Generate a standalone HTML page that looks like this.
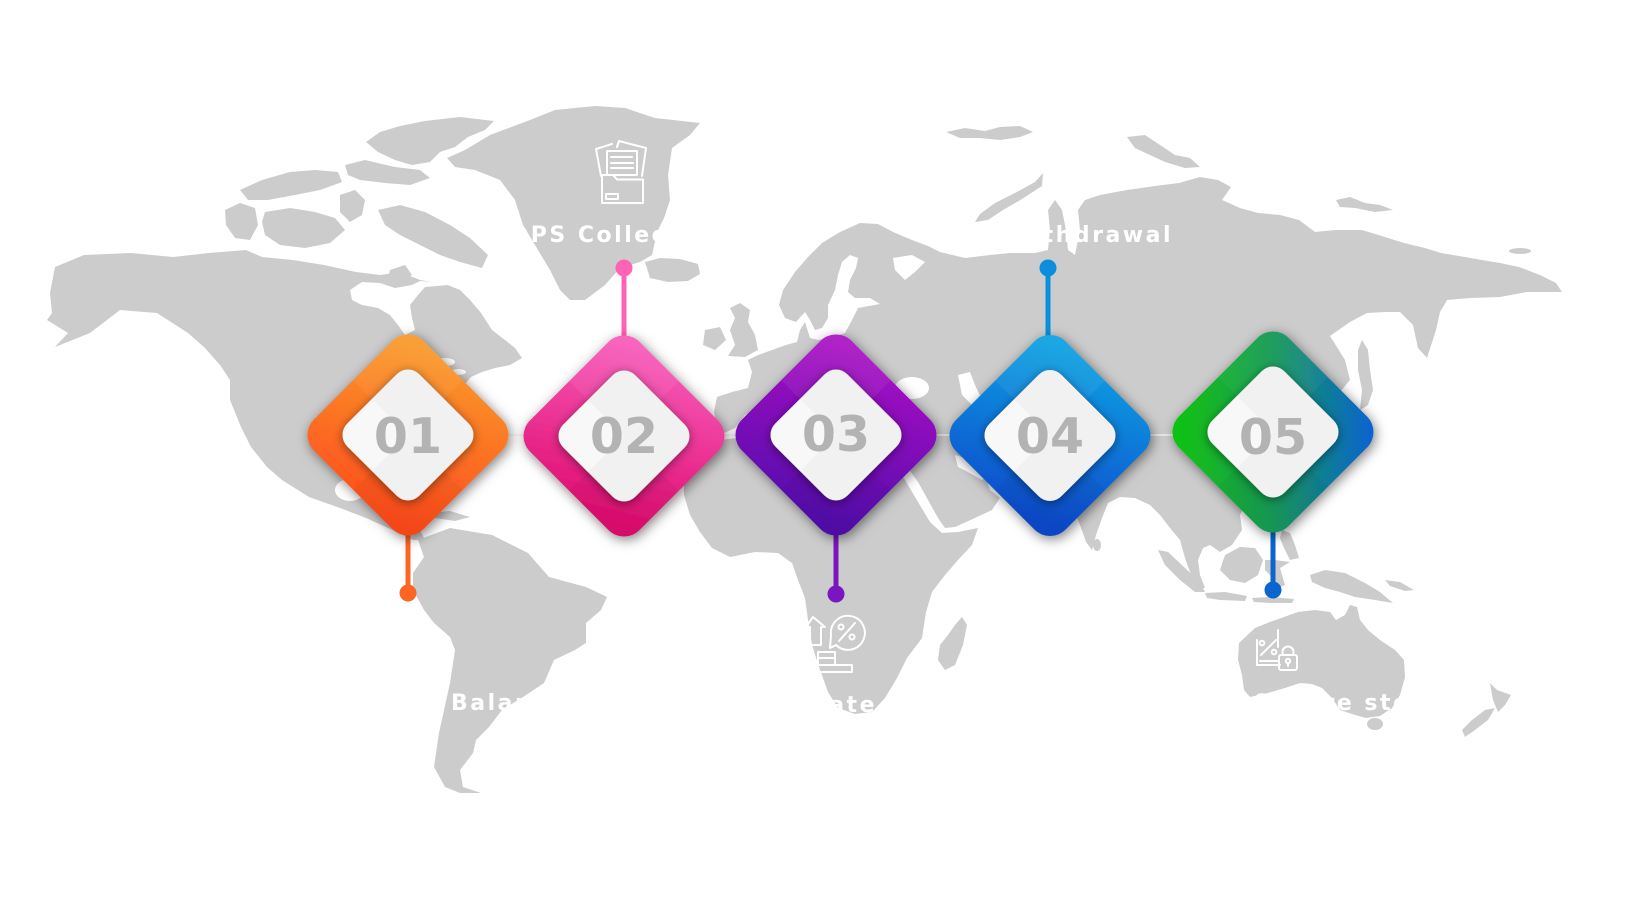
<!DOCTYPE html>
<html><head><meta charset="utf-8"><style>
html,body{margin:0;padding:0;background:#fff;overflow:hidden;width:1633px;height:900px}
svg{display:block}
.lbl{font-family:"DejaVu Sans","Liberation Sans",sans-serif;font-weight:bold;font-size:22px;letter-spacing:2.5px;fill:#fff}
.num{font-family:"DejaVu Sans","Liberation Sans",sans-serif;font-weight:bold;font-size:49px;fill:#b3b3b3}
</style></head><body>
<svg width="1633" height="900" viewBox="0 0 1633 900" xmlns="http://www.w3.org/2000/svg">
<defs>
<linearGradient id="g1" x1="0.2" y1="0" x2="0.8" y2="1"><stop offset="0" stop-color="#f99a2a"/><stop offset="1" stop-color="#ff4a1c"/></linearGradient>
<linearGradient id="g2" x1="0.2" y1="0" x2="0.8" y2="1"><stop offset="0" stop-color="#f75cba"/><stop offset="1" stop-color="#df0a6e"/></linearGradient>
<linearGradient id="g3" x1="0.2" y1="0" x2="0.8" y2="1"><stop offset="0" stop-color="#aa12c4"/><stop offset="1" stop-color="#520eac"/></linearGradient>
<linearGradient id="g4" x1="0.2" y1="0" x2="0.8" y2="1"><stop offset="0" stop-color="#0aa2e2"/><stop offset="1" stop-color="#0848cc"/></linearGradient>
<linearGradient id="g5" x1="0" y1="1" x2="1" y2="0"><stop offset="0" stop-color="#10c808"/><stop offset="0.5" stop-color="#169a58"/><stop offset="1" stop-color="#0a5ddc"/></linearGradient>
<filter id="ds" x="-40%" y="-40%" width="180%" height="180%"><feDropShadow dx="2" dy="3" stdDeviation="6" flood-color="#000" flood-opacity="0.5"/></filter>
<filter id="ids" x="-40%" y="-40%" width="180%" height="180%"><feDropShadow dx="0" dy="2" stdDeviation="5" flood-color="#000" flood-opacity="0.45"/></filter>
<clipPath id="dc"><rect x="-77.5" y="-77.5" width="155" height="155" rx="22"/></clipPath>
<clipPath id="ic"><rect x="-51" y="-51" width="102" height="102" rx="16"/></clipPath>
</defs>
<rect width="1633" height="900" fill="#fff"/>

<!-- MAP -->
<g fill="#cccccc">
<polygon points="55,267 84,255 131,253 173,257 209,253 246,250 262,257 293,260 324,265 356,272 380,275 400,272 420,280 445,284 460,290 470,300 481,313 492,330 505,340 515,348 522,358 510,365 495,368 482,372 471,377 460,390 455,405 450,425 445,445 440,465 445,480 448,495 440,500 425,490 410,485 398,488 392,500 398,515 410,520 420,530 425,540 413,540 397,532 366,518 340,508 309,497 282,480 267,467 251,447 241,427 230,400 230,380 220,365 205,348 188,333 157,313 120,310 90,333 55,347 68,333 47,320 52,313 50,293"/>
<polygon points="366,142 380,132 400,126 425,121 460,117 494,121 485,130 468,137 455,147 440,152 430,162 412,165 395,160 378,152"/>
<polygon points="345,165 365,160 395,167 420,170 430,178 410,185 385,183 360,180 348,175"/>
<polygon points="240,190 262,180 290,172 315,170 338,172 342,182 320,190 295,195 268,200 248,200"/>
<polygon points="225,210 240,203 255,208 258,225 250,240 235,238 226,225"/>
<polygon points="265,212 290,208 315,212 335,218 345,230 330,243 305,248 280,245 265,235 262,222"/>
<polygon points="378,210 400,205 425,212 450,225 470,238 488,255 482,268 460,262 440,255 420,245 400,235 385,225"/>
<polygon points="340,195 355,190 365,200 362,215 350,222 340,212"/>
<polygon points="390,270 405,265 412,275 400,282 388,278"/>
<polygon points="447,158 465,150 490,135 530,120 555,110 595,106 625,108 655,118 700,123 690,135 672,148 668,175 670,200 664,218 657,232 652,255 640,262 620,268 605,285 585,300 570,300 560,290 550,270 535,245 523,225 515,200 500,180 475,170 455,167"/>
<polygon points="645,262 660,258 680,259 698,264 700,274 688,281 668,282 650,278"/>
<polygon points="740,303 750,310 748,322 755,335 758,350 745,357 728,356 735,345 730,330 735,318 730,308"/>
<polygon points="705,330 720,327 726,340 715,350 703,345"/>
<polygon points="418,540 450,528 492,535 528,553 549,577 586,587 607,597 601,610 586,623 586,643 575,650 554,660 544,683 523,697 502,710 489,727 476,740 473,753 460,770 463,787 481,793 460,793 445,787 434,767 439,733 450,683 455,650 450,637 434,623 424,610 413,590 413,573 424,557"/>
<polygon points="430,513 450,511 470,517 455,521 435,518"/>
<polygon points="718,432 714,412 717,397 732,392 748,388 752,372 748,360 758,355 772,350 786,345 797,342 800,330 805,322 810,338 818,340 830,338 845,333 852,320 858,308 880,304 870,298 855,298 848,292 850,280 856,268 858,258 850,255 842,262 838,275 835,290 828,305 828,318 822,328 815,330 810,320 805,312 796,322 785,318 779,305 783,290 795,272 808,257 822,243 840,232 860,223 878,224 893,232 912,240 928,246 940,252 965,258 990,255 1010,253 1035,253 1048,250 1050,230 1048,210 1055,200 1062,210 1066,230 1068,250 1075,255 1080,230 1078,210 1085,200 1100,195 1127,190 1155,186 1179,183 1200,177 1218,180 1231,187 1222,200 1240,208 1258,213 1280,215 1299,220 1315,232 1335,230 1362,230 1385,237 1404,243 1425,248 1441,253 1465,257 1482,260 1500,263 1519,267 1540,275 1556,283 1562,292 1540,292 1527,292 1500,297 1470,298 1447,300 1440,312 1436,330 1427,358 1418,348 1413,325 1400,312 1385,312 1367,313 1350,322 1330,336 1345,360 1350,380 1340,392 1348,405 1350,425 1340,445 1325,465 1305,485 1285,497 1265,503 1245,505 1240,515 1242,530 1232,545 1220,552 1210,545 1203,548 1198,560 1200,575 1205,588 1196,588 1190,572 1185,558 1180,540 1170,528 1160,515 1150,505 1135,498 1120,497 1108,503 1102,518 1096,535 1092,550 1086,542 1080,525 1074,510 1065,498 1050,490 1030,484 1010,485 995,480 985,475 990,490 1000,498 992,510 975,518 955,527 945,528 938,518 928,500 918,482 908,468 900,456 896,445 893,428 880,422 860,425 848,422 838,430 830,422 820,418 812,428 800,418 790,410 778,405 760,408 745,415 735,428 722,434"/>
<polygon points="946,132 965,128 985,131 1000,127 1020,126 1033,132 1020,137 1000,140 980,138 960,138"/>
<polygon points="1043,173 1035,182 1015,193 995,203 980,214 975,222 988,220 1003,210 1022,199 1042,186"/>
<polygon points="1127,137 1145,135 1160,145 1175,155 1190,158 1200,167 1185,168 1165,162 1150,155 1135,148"/>
<polygon points="1336,200 1350,197 1365,203 1380,205 1393,210 1375,212 1355,208 1340,207"/>
<ellipse cx="1520" cy="251" rx="11" ry="3"/>
<polygon points="1362,340 1368,350 1370,370 1373,390 1368,405 1360,410 1362,390 1358,370 1358,350"/>
<polygon points="688,465 700,448 720,440 745,437 770,440 800,443 830,445 860,447 885,450 893,462 905,480 918,502 930,522 942,533 958,532 978,528 972,545 958,560 945,575 932,592 926,612 922,638 907,658 897,678 885,698 872,712 855,714 838,708 828,692 820,670 812,645 808,620 805,598 798,580 792,563 778,553 755,552 730,557 712,548 700,532 690,515 684,495 684,478"/>
<polygon points="962,617 967,625 963,645 955,665 945,670 938,660 940,645 948,635 955,625"/>
<ellipse cx="1097" cy="545" rx="4" ry="6"/>
<polygon points="1282,530 1290,533 1295,545 1299,558 1290,560 1284,548 1280,538"/>
<polygon points="1225,555 1240,547 1255,548 1263,560 1258,575 1245,583 1230,580 1220,570"/>
<polygon points="1265,560 1275,560 1290,562 1280,568 1285,585 1275,590 1270,575 1265,570"/>
<polygon points="1158,550 1168,552 1185,568 1200,582 1205,592 1195,592 1180,580 1165,565"/>
<polygon points="1205,593 1225,592 1247,596 1245,601 1220,600 1207,598"/>
<polygon points="1252,598 1270,597 1294,599 1292,603 1270,603 1254,602"/>
<polygon points="1310,575 1325,570 1345,573 1365,583 1380,592 1393,603 1375,600 1355,597 1340,592 1325,588 1312,582"/>
<polygon points="1385,580 1400,582 1414,590 1405,591 1390,586"/>
<polygon points="1239,643 1255,628 1270,622 1284,617 1298,612 1315,610 1330,612 1336,620 1345,615 1350,605 1357,607 1360,620 1368,630 1380,640 1395,650 1404,660 1405,677 1400,695 1392,708 1380,716 1366,718 1352,714 1340,710 1332,698 1322,688 1312,684 1300,683 1285,688 1268,693 1250,697 1244,690 1242,675 1238,660"/>
<ellipse cx="1375" cy="724" rx="8" ry="6"/>
<polygon points="1490,683 1497,690 1511,695 1505,705 1498,712 1493,700"/>
<polygon points="1495,708 1488,720 1475,730 1465,737 1462,730 1472,720 1485,710"/>
</g>
<g fill="#fff">
<polygon points="350,290 362,282 380,283 395,288 412,285 420,281 460,284 425,287 418,295 410,305 412,318 415,330 405,335 398,325 390,315 378,308 362,305 352,300"/>
<ellipse cx="445" cy="362" rx="10" ry="4"/>
<ellipse cx="458" cy="372" rx="8" ry="3"/>
<ellipse cx="435" cy="370" rx="4" ry="7"/>
<ellipse cx="350" cy="490" rx="15" ry="11"/>
<ellipse cx="912" cy="388" rx="17" ry="11"/>
<polygon points="958,375 970,372 975,385 982,400 972,405 962,395"/>
<polygon points="893,258 912,255 925,262 915,272 905,280 895,270"/>
<polygon points="955,455 972,460 988,475 982,480 968,472 958,467"/>
</g>

<text class="lbl" x="510" y="242">DPS Collection</text>
<text class="lbl" x="1173" y="242" text-anchor="end">Withdrawal</text>
<text class="lbl" x="451" y="710">Balance Check</text>
<text class="lbl" x="877" y="712" text-anchor="end">Interest rate</text>
<text class="lbl" x="1254" y="710">Secure storage</text>

<g fill="none" stroke="#fff" stroke-width="2" stroke-linejoin="round" stroke-linecap="round">
  <path d="M601,176 L596,149 L612,144"/>
  <path d="M617,147 L619,141 L646,148 L642,176"/>
  <rect x="607" y="151" width="30" height="24"/>
  <path d="M611,157 H632 M611,163 H633 M611,168 H633"/>
  <path d="M602,203 L602,175 L613,175 L617,179.5 L643,179.5 L643,203 Z"/>
  <rect x="606" y="194" width="12" height="5"/>
  <path d="M813,617 L806,627 L810,627 L810,645 L821,645 L821,627 L825,627 Z"/>
  <path d="M836,645 A17,17 0 1 0 831,635 L830,648 Z"/>
  <circle cx="841" cy="627" r="2.5"/><circle cx="852" cy="637" r="2.5"/>
  <path d="M839,641 L855,623"/>
  <rect x="818" y="652" width="17" height="6"/>
  <rect x="818" y="658" width="17" height="7"/>
  <rect x="818" y="665" width="34" height="7"/>
  <path d="M1257,640 V665 H1280 M1260,661 H1278 M1278,630 V647"/>
  <circle cx="1262" cy="643" r="2.3"/><circle cx="1274" cy="652" r="2.3"/>
  <path d="M1261,655 L1276,640"/>
  <rect x="1279" y="655" width="18" height="15" rx="2"/>
  <path d="M1282.5,655 V652 A5.5,5.5 0 0 1 1293.5,652 V655"/>
  <circle cx="1288" cy="661" r="2.2"/><path d="M1288,663 V666"/>
</g>

<line x1="408" y1="435" x2="1273" y2="435" stroke="#f2f2f2" stroke-width="1.5"/>

<g stroke-width="5">
  <line x1="408" y1="530" x2="408" y2="593" stroke="#fd6524"/>
  <circle cx="408" cy="593" r="8.5" fill="#fd6524"/>
  <line x1="624" y1="268" x2="624" y2="345" stroke="#fe63b5"/>
  <circle cx="624" cy="268" r="8.5" fill="#fe63b5"/>
  <line x1="836" y1="530" x2="836" y2="594" stroke="#7a16c0"/>
  <circle cx="836" cy="594" r="8.5" fill="#7a16c0"/>
  <line x1="1048" y1="268" x2="1048" y2="345" stroke="#0b8fdc"/>
  <circle cx="1048" cy="268" r="8.5" fill="#0b8fdc"/>
  <line x1="1273" y1="528" x2="1273" y2="590" stroke="#0a66cc"/>
  <circle cx="1273" cy="590" r="8.5" fill="#0a66cc"/>
</g>

<g transform="translate(408,435)">
  <g filter="url(#ds)"><rect x="-77.5" y="-77.5" width="155" height="155" rx="22" transform="rotate(45)" fill="url(#g1)"/></g>
  <g transform="rotate(45)" clip-path="url(#dc)"><rect x="-77.5" y="-77.5" width="77.5" height="77.5" fill="#fff" opacity="0.06"/><rect x="0" y="0" width="77.5" height="77.5" fill="#000" opacity="0.04"/></g>
  <g filter="url(#ids)"><rect x="-51" y="-51" width="102" height="102" rx="16" transform="rotate(45)" fill="#f1f1f1"/></g>
  <g transform="rotate(45)" clip-path="url(#ic)"><rect x="-51" y="0" width="51" height="51" fill="#fff" opacity="0.5"/></g>
  <text class="num" x="0" y="18" text-anchor="middle">01</text>
</g>
<g transform="translate(624,436)">
  <g filter="url(#ds)"><rect x="-77.5" y="-77.5" width="155" height="155" rx="22" transform="rotate(45)" fill="url(#g2)"/></g>
  <g transform="rotate(45)" clip-path="url(#dc)"><rect x="-77.5" y="-77.5" width="77.5" height="77.5" fill="#fff" opacity="0.06"/><rect x="0" y="0" width="77.5" height="77.5" fill="#000" opacity="0.04"/></g>
  <g filter="url(#ids)"><rect x="-51" y="-51" width="102" height="102" rx="16" transform="rotate(45)" fill="#f1f1f1"/></g>
  <g transform="rotate(45)" clip-path="url(#ic)"><rect x="-51" y="0" width="51" height="51" fill="#fff" opacity="0.5"/></g>
  <text class="num" x="0" y="17" text-anchor="middle">02</text>
</g>
<g transform="translate(836,435)">
  <g filter="url(#ds)"><rect x="-77.5" y="-77.5" width="155" height="155" rx="22" transform="rotate(45)" fill="url(#g3)"/></g>
  <g transform="rotate(45)" clip-path="url(#dc)"><rect x="-77.5" y="-77.5" width="77.5" height="77.5" fill="#fff" opacity="0.06"/><rect x="0" y="0" width="77.5" height="77.5" fill="#000" opacity="0.04"/></g>
  <g filter="url(#ids)"><rect x="-51" y="-51" width="102" height="102" rx="16" transform="rotate(45)" fill="#f1f1f1"/></g>
  <g transform="rotate(45)" clip-path="url(#ic)"><rect x="-51" y="0" width="51" height="51" fill="#fff" opacity="0.5"/></g>
  <text class="num" x="0" y="16" text-anchor="middle">03</text>
</g>
<g transform="translate(1050,435.5)">
  <g filter="url(#ds)"><rect x="-77.5" y="-77.5" width="155" height="155" rx="22" transform="rotate(45)" fill="url(#g4)"/></g>
  <g transform="rotate(45)" clip-path="url(#dc)"><rect x="-77.5" y="-77.5" width="77.5" height="77.5" fill="#fff" opacity="0.06"/><rect x="0" y="0" width="77.5" height="77.5" fill="#000" opacity="0.04"/></g>
  <g filter="url(#ids)"><rect x="-51" y="-51" width="102" height="102" rx="16" transform="rotate(45)" fill="#f1f1f1"/></g>
  <g transform="rotate(45)" clip-path="url(#ic)"><rect x="-51" y="0" width="51" height="51" fill="#fff" opacity="0.5"/></g>
  <text class="num" x="0" y="17.5" text-anchor="middle">04</text>
</g>
<g transform="translate(1273,432)">
  <g filter="url(#ds)"><rect x="-77.5" y="-77.5" width="155" height="155" rx="22" transform="rotate(45)" fill="url(#g5)"/></g>
  <g transform="rotate(45)" clip-path="url(#dc)"><rect x="-77.5" y="-77.5" width="77.5" height="77.5" fill="#fff" opacity="0.04"/><rect x="0" y="0" width="77.5" height="77.5" fill="#000" opacity="0.03"/></g>
  <g filter="url(#ids)"><rect x="-51" y="-51" width="102" height="102" rx="16" transform="rotate(45)" fill="#f1f1f1"/></g>
  <g transform="rotate(45)" clip-path="url(#ic)"><rect x="-51" y="0" width="51" height="51" fill="#fff" opacity="0.5"/></g>
  <text class="num" x="0" y="22" text-anchor="middle">05</text>
</g>
</svg>
</body></html>
